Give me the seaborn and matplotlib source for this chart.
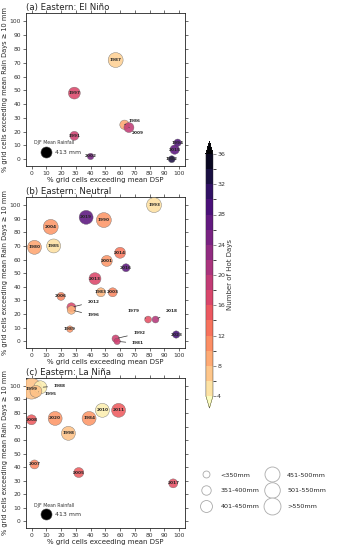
import numpy as np
import pandas as pd
import matplotlib
matplotlib.use("Agg")
import matplotlib.pyplot as plt
import matplotlib.colors as mcolors
from matplotlib.lines import Line2D
import seaborn as sns

# ---------------- data ----------------
# (a) El Nino
a_year = ["1987", "1997", "1986", "2009", "1991", "2002", "1994", "2015", "1982"]
a_dsp = [57, 29, 63, 66, 29, 40, 99, 97, 95]
a_rain_days = [72, 48, 25, 23, 17, 2, 12, 7, 0]
a_rain = [500, 430, 385, 395, 378, 345, 355, 385, 350]
a_hot = [7, 17, 10, 19, 18, 25, 28, 27, 32]

# (b) Neutral
b_year = ["1993", "2019", "1990", "2004", "1980", "1985", "2014", "2001", "2016",
          "2013", "1983", "2003", "2006", "2012", "1996", "1989", "1979", "2018",
          "1992", "1981", "2023"]
b_dsp = [83, 37, 49, 13, 2, 15, 60, 51, 64, 43, 47, 55, 20, 27, 27, 26, 79, 84, 57, 58, 98]
b_rain_days = [100, 91, 89, 84, 69, 70, 65, 59, 54, 46, 36, 36, 33, 25, 23, 9, 16, 16, 2, 0, 5]
b_rain = [500, 476, 500, 500, 476, 476, 413, 413, 364, 432, 378, 378, 364, 378, 370,
          345, 350, 350, 355, 345, 355]
b_hot = [6, 27, 11, 11, 10, 6, 13, 11, 27, 17, 9, 12, 12, 17, 9, 11, 16, 20, 18, 18, 29]

# (c) La Nina
c_year = ["1999", "1988", "1995", "2008", "2020", "1998", "1984", "2010", "2011",
          "2007", "2005", "2017"]
c_dsp = [0, 6, 3, 0, 16, 25, 39, 48, 59, 2, 32, 96]
c_rain_days = [98, 99, 96, 75, 76, 65, 76, 82, 82, 42, 36, 28]
c_rain = [680, 455, 430, 395, 476, 476, 476, 476, 476, 378, 395, 378]
c_hot = [8, 5, 8, 15, 11, 8, 11, 5, 15, 12, 15, 16]

djf_mean_rain = 413
hot_levels = list(range(4, 37, 2))
hot_ticks = list(range(4, 37, 4))
size_classes = ["<350mm", "351-400mm", "401-450mm", "451-500mm", "501-550mm", ">550mm"]

# labels drawn away from their bubble (offset text positions in data units)
label_pos = {
    "a": {"1986": (70, 28), "2009": (72, 19)},
    "b": {"2012": (42, 29), "1996": (42, 19), "1979": (69, 22), "2018": (95, 22),
          "1992": (73, 6), "1981": (72, -1.5)},
    "c": {"1988": (19, 100), "1995": (13, 94)},
}

# ---------------- style ----------------
sns.set_style("ticks")
plt.rcParams["font.family"] = ["DejaVu Sans"]

fig = plt.figure(figsize=(3.37, 5.5), dpi=100)
cmap = plt.get_cmap("magma_r")
norm = mcolors.BoundaryNorm(hot_levels, cmap.N, extend="both")
hue_norm = mcolors.Normalize(4, 36)

panels = [
    ("a", "(a) Eastern: El Niño", a_year, a_dsp, a_rain_days, a_rain, a_hot, True),
    ("b", "(b) Eastern: Neutral", b_year, b_dsp, b_rain_days, b_rain, b_hot, False),
    ("c", "(c) Eastern: La Niña", c_year, c_dsp, c_rain_days, c_rain, c_hot, True),
]
positions = [[0.076, 0.698, 0.473, 0.278],
             [0.076, 0.367, 0.473, 0.275],
             [0.076, 0.040, 0.473, 0.273]]

for (key, title, yr, dsp, rd, rain, hot, ref), pos in zip(panels, positions):
    ax = fig.add_axes(pos)
    df = pd.DataFrame({"year": yr, "dsp": dsp, "rd": rd, "rain": rain, "hot": hot})
    sns.scatterplot(data=df, x="dsp", y="rd", hue="hot", size="rain",
                    palette=cmap, hue_norm=hue_norm, sizes=(12.5, 237.5),
                    size_norm=(330, 700), legend=False, ax=ax,
                    edgecolor="#666666", linewidth=0.3, alpha=0.88, zorder=3)
    for _, r in df.iterrows():
        if r["year"] in label_pos[key]:
            tx, ty = label_pos[key][r["year"]]
            ax.annotate(r["year"], xy=(r["dsp"], r["rd"]), xytext=(tx, ty),
                        fontsize=3.1, fontweight="bold", ha="center", va="center",
                        arrowprops=dict(arrowstyle="-", lw=0.5, color="#333333"),
                        zorder=5)
        else:
            ax.text(r["dsp"], r["rd"], r["year"], fontsize=3.1, fontweight="bold",
                    ha="center", va="center", zorder=5)
    if ref:
        rdf = pd.DataFrame({"dsp": [10], "rd": [5], "rain": [djf_mean_rain]})
        sns.scatterplot(data=rdf, x="dsp", y="rd", size="rain", sizes=(12.5, 237.5),
                        size_norm=(330, 700), legend=False, ax=ax, color="black",
                        edgecolor="#444444", linewidth=0.4, zorder=3)
        ax.text(1.5, 12, "DJF Mean Rainfall", fontsize=3.3, ha="left", va="center",
                color="#333333")
        ax.text(16, 5, f"{djf_mean_rain} mm", fontsize=4.5, ha="left", va="center",
                color="#333333")
    ax.set_xlim(-4, 104)
    ax.set_ylim(-5, 106)
    ax.set_xticks(range(0, 101, 10))
    ax.set_yticks(range(0, 101, 10))
    ax.tick_params(labelsize=4.3, length=2, width=0.5, pad=1.5, top=True, right=True,
                   colors="#333333")
    for s in ax.spines.values():
        s.set_linewidth(0.6)
        s.set_color("#222222")
    ax.set_xlabel("% grid cells exceeding mean DSP", fontsize=5, labelpad=1)
    ax.set_ylabel("% grid cells exceeding mean Rain Days ≥ 10 mm", fontsize=4.8,
                  labelpad=1)
    ax.set_title(title, loc="left", fontsize=6.2, pad=2, color="#222222")

# colorbar
cax = fig.add_axes([0.611, 0.258, 0.021, 0.484])
sm = matplotlib.cm.ScalarMappable(norm=norm, cmap=cmap)
cb = fig.colorbar(sm, cax=cax, extend="both", ticks=hot_ticks)
cb.outline.set_linewidth(0.3)
cb.ax.tick_params(labelsize=4.5, length=2, width=0.4, pad=1, colors="#333333")
cb.set_label("Number of Hot Days", fontsize=5, labelpad=1, color="#333333")

# size legend
leg_ms = [5.0, 6.8, 8.6, 10.8, 11.2, 12.2]
handles = [Line2D([], [], marker="o", linestyle="none", markersize=m,
                  markerfacecolor="white", markeredgecolor="#aaaaaa",
                  markeredgewidth=0.6) for m in leg_ms]
fig.legend(handles, size_classes, ncol=2, loc="center",
           bbox_to_anchor=(0.78, 0.108), frameon=False, fontsize=4.6,
           columnspacing=1.0, handletextpad=1.3, labelspacing=1.6,
           handlelength=2.0)

fig.savefig("out.png", dpi=100)
